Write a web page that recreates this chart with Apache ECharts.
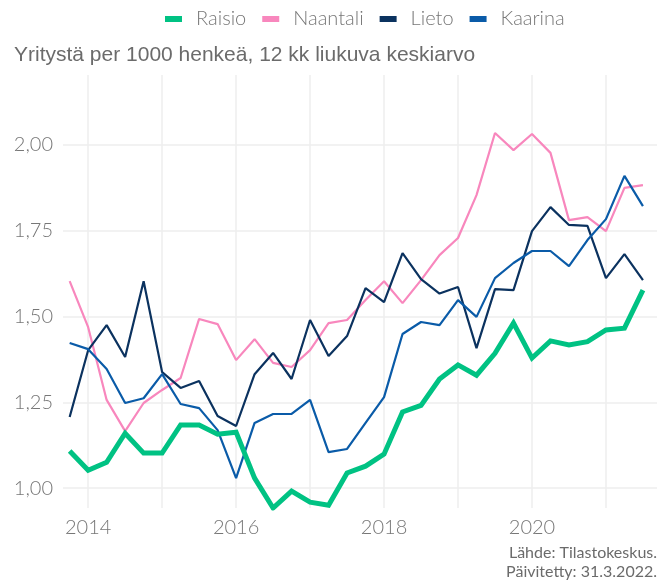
<!DOCTYPE html>
<html>
<head>
<meta charset="utf-8">
<script src="https://cdn.jsdelivr.net/npm/echarts@6/dist/echarts.min.js"></script>
<style>
  html, body { margin: 0; padding: 0; background: #fff; }
  #dom { width: 667px; height: 583px; }
</style>
</head>
<body>
<div id="dom"></div>
<script>
// quarterly time points, 2013 Q4 .. 2021 Q3
var quarters = [];
for (var q = 0; q < 32; q++) quarters.push(2013.75 + q * 0.25);

var raisio = [1.108, 1.052, 1.075, 1.160, 1.102, 1.102, 1.184, 1.184, 1.157, 1.163,
  1.029, 0.942, 0.991, 0.959, 0.950, 1.044, 1.064, 1.099, 1.222, 1.241,
  1.318, 1.359, 1.329, 1.393, 1.481, 1.379, 1.429, 1.417, 1.427, 1.461,
  1.466, 1.577];
var naantali = [1.603, 1.469, 1.257, 1.166, 1.248, 1.286, 1.321, 1.493, 1.478, 1.373,
  1.434, 1.365, 1.353, 1.402, 1.481, 1.490, 1.548, 1.603, 1.539, 1.606,
  1.679, 1.729, 1.854, 2.035, 1.985, 2.032, 1.977, 1.781, 1.790, 1.749,
  1.875, 1.883];
var lieto = [1.207, 1.402, 1.475, 1.382, 1.603, 1.338, 1.292, 1.312, 1.210, 1.181,
  1.332, 1.394, 1.318, 1.490, 1.385, 1.443, 1.583, 1.542, 1.685, 1.609,
  1.567, 1.586, 1.408, 1.580, 1.577, 1.749, 1.819, 1.767, 1.764, 1.612,
  1.682, 1.606];
var kaarina = [1.423, 1.405, 1.347, 1.248, 1.262, 1.332, 1.245, 1.233, 1.169, 1.029,
  1.190, 1.216, 1.216, 1.257, 1.105, 1.114, 1.190, 1.265, 1.449, 1.484,
  1.475, 1.548, 1.499, 1.612, 1.656, 1.691, 1.691, 1.647, 1.723, 1.784,
  1.910, 1.822];

var yearTicks = [2014, 2015, 2016, 2017, 2018, 2019, 2020, 2021];
var yearLabels = [2014, 2016, 2018, 2020];
var yTicks = [1.00, 1.25, 1.50, 1.75, 2.00];

function pairs(arr) {
  return arr.map(function (v, i) { return [quarters[i], v]; });
}

var myChart = echarts.init(document.getElementById('dom'));
var font = 'Lato, "Open Sans", sans-serif';

var option = {
  animation: false,
  textStyle: { fontFamily: font },
  title: {
    text: 'Yritystä per 1000 henkeä, 12 kk liukuva keskiarvo',
    left: 9,
    top: 40,
    textStyle: { fontSize: 21, fontWeight: 'normal', color: '#6b6b6b', fontFamily: 'Liberation Sans, Arial, sans-serif' }
  },
  legend: {
    left: 160,
    top: 4,
    itemWidth: 17,
    itemHeight: 6,
    itemGap: 16,
    icon: 'rect',
    textStyle: { fontSize: 20, color: '#777', fontWeight: 300, fontFamily: font, padding: [0, 0, 0, 9] },
    data: ['Raisio', 'Naantali', 'Lieto', 'Kaarina']
  },
  graphic: [{
    type: 'text',
    right: 10,
    bottom: 2,
    style: {
      text: 'Lähde: Tilastokeskus.\nPäivitetty: 31.3.2022.',
      textAlign: 'right',
      fontSize: 16,
      lineHeight: 19,
      fill: '#6b6b6b',
      fontFamily: font
    }
  }],
  grid: { left: 63, right: 10, top: 75, bottom: 75 },
  xAxis: {
    type: 'value',
    min: 2013.66,
    max: 2021.69,
    axisLine: { show: false },
    axisTick: { show: false, customValues: yearTicks },
    axisLabel: {
      customValues: yearLabels,
      fontSize: 20, color: '#777', fontWeight: 300, margin: 10,
      formatter: function (v) { return String(Math.round(v)); }
    },
    splitLine: { show: true, lineStyle: { color: '#eeeeee', width: 1.5 } }
  },
  yAxis: {
    type: 'value',
    min: 0.942,
    max: 2.204,
    axisLine: { show: false },
    axisTick: { show: false, customValues: yTicks },
    axisLabel: {
      customValues: yTicks,
      fontSize: 20, color: '#777', fontWeight: 300, margin: 10,
      formatter: function (v) { return v.toFixed(2).replace('.', ','); }
    },
    splitLine: { show: true, lineStyle: { color: '#eeeeee', width: 1.5 } }
  },
  series: [{
    name: 'Raisio',
    type: 'line',
    symbol: 'none',
    z: 5,
    color: '#00c283',
    lineStyle: { width: 5, join: 'miter' },
    data: pairs(raisio)
  }, {
    name: 'Naantali',
    type: 'line',
    symbol: 'none',
    color: '#f887bd',
    lineStyle: { width: 2.2 },
    data: pairs(naantali)
  }, {
    name: 'Lieto',
    type: 'line',
    symbol: 'none',
    color: '#0b325f',
    lineStyle: { width: 2.2 },
    data: pairs(lieto)
  }, {
    name: 'Kaarina',
    type: 'line',
    symbol: 'none',
    color: '#0a5ba8',
    lineStyle: { width: 2.2 },
    data: pairs(kaarina)
  }]
};
myChart.setOption(option);
</script>
</body>
</html>
